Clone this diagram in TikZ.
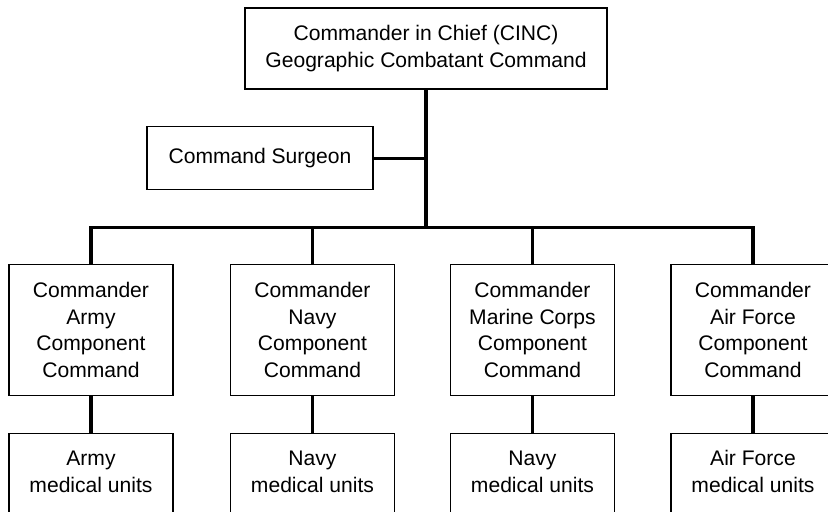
\documentclass[tikz,border=0pt]{standalone}
\usepackage{fontspec}
\setmainfont{Liberation Sans}
\begin{document}
\begin{tikzpicture}[
        box/.style={rectangle,draw,line width=0.8pt,align=center,font=\fontsize{15}{19}\selectfont},
        cmdbox/.style={box,minimum width=4.1cm,minimum height=3.275cm},
        unitbox/.style={rectangle,draw,line width=0.8pt,font=\fontsize{15}{19}\selectfont,minimum width=4.1cm,anchor=north,inner ysep=9.4pt,text depth=3cm},
        link/.style={line width=2.2pt}]
            \useasboundingbox (-10.65,1.2125) rectangle (10.05,-11.5625);
            \clip (-10.65,1.2125) rectangle (10.05,-11.5625);
            \node[box,minimum width=9.05cm,minimum height=2.025cm] (node1) at (0,0) {Commander in Chief (CINC)\\Geographic Combatant Command};
            \node[box,minimum width=5.65cm,minimum height=1.575cm,xshift=-4.15cm,yshift=-1.7125cm] (node2) at (node1.south) {Command Surgeon};
            \coordinate[yshift=-3.45cm] (node3) at (node1.south);
            % Component commands
            \node[cmdbox,xshift=-8.375cm,yshift=-2.5625cm] (node4) at (node3) {Commander\\Army\\Component\\Command};
            \node[cmdbox,xshift=-2.8375cm,yshift=-2.5625cm] (node5) at (node3) {Commander\\Navy\\Component\\Command};
            \node[cmdbox,xshift=2.6625cm,yshift=-2.5625cm] (node6) at (node3) {Commander\\Marine Corps\\Component\\Command};
            \node[cmdbox,xshift=8.175cm,yshift=-2.5625cm] (node7) at (node3) {Commander\\Air Force\\Component\\Command};
            % Medical units
            \node[unitbox,yshift=-0.925cm] (node8) at (node4.south) {\begin{tabular}[t]{@{}c@{}}Army\\medical units\end{tabular}};
            \node[unitbox,yshift=-0.925cm] (node9) at (node5.south) {\begin{tabular}[t]{@{}c@{}}Navy\\medical units\end{tabular}};
            \node[unitbox,yshift=-0.925cm] (node10) at (node6.south) {\begin{tabular}[t]{@{}c@{}}Navy\\medical units\end{tabular}};
            \node[unitbox,yshift=-0.925cm] (node11) at (node7.south) {\begin{tabular}[t]{@{}c@{}}Air Force\\medical units\end{tabular}};
            % Lines
            \draw[link] (node1.south) -- (node3);
            \draw[link] (node2.east) -- (node2.east -| node1.south);
            \draw[link] (node4.north) -- (node4.north |- node3) -- (node7.north |- node3) -- (node7.north);
            \draw[link] (node5.north) -- (node5.north |- node3);
            \draw[link] (node6.north) -- (node6.north |- node3);
            \draw[link] (node4.south) -- (node8.north);
            \draw[link] (node5.south) -- (node9.north);
            \draw[link] (node6.south) -- (node10.north);
            \draw[link] (node7.south) -- (node11.north);
        \end{tikzpicture}
\end{document}
